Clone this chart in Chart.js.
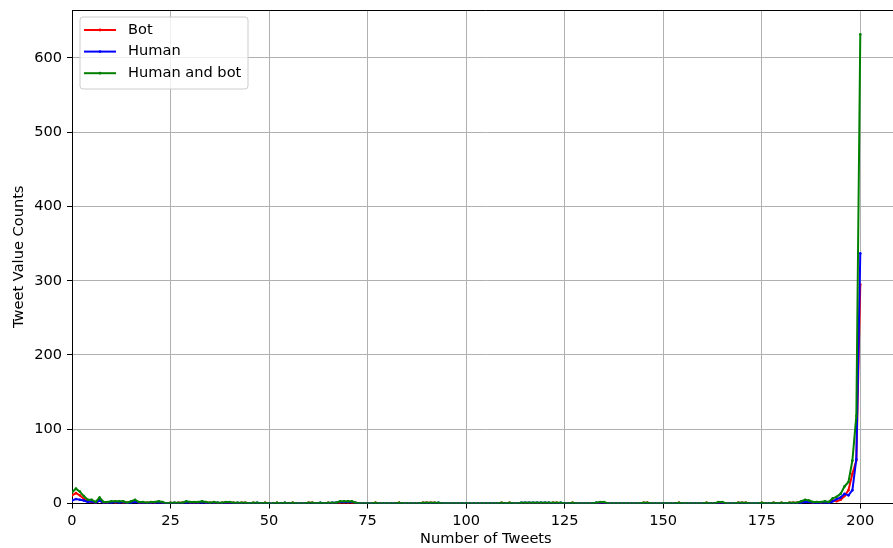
<!DOCTYPE html>
<html>
<head>
<meta charset="utf-8">
<script src="https://cdn.jsdelivr.net/npm/chart.js@4/dist/chart.umd.min.js"></script>
<style>
  html, body { margin: 0; padding: 0; background: #fff; overflow: hidden; width: 893px; height: 548px; }
  #wrap { width: 901px; height: 548px; }
</style>
</head>
<body>
<div id="wrap"><canvas id="c" width="901" height="548"></canvas></div>
<script>
// Number of tweets per account (x positions)
const tweetCounts = [
  0,1,2,3,4,5,6,7,8,9,10,11,12,13,14,15,16,17,18,19,
  20,21,22,23,24,25,26,27,28,29,30,31,32,33,34,35,36,37,38,39,
  40,41,42,43,44,45,46,47,48,49,50,51,52,53,54,55,56,57,58,59,
  60,61,62,63,64,65,66,67,68,69,70,71,72,73,74,75,76,77,78,79,
  80,81,82,83,84,85,86,87,88,89,90,91,92,93,94,95,96,97,98,99,
  100,101,102,103,104,105,106,107,108,109,110,111,112,113,114,115,116,117,118,119,
  120,121,122,123,124,125,126,127,128,129,130,131,132,133,134,135,136,137,138,139,
  140,141,142,143,144,145,146,147,148,149,150,151,152,153,154,155,156,157,158,159,
  160,161,162,163,164,165,166,167,168,169,170,171,172,173,174,175,176,177,178,179,
  180,181,182,183,184,185,186,187,188,189,190,191,192,193,194,195,196,197,198,199,
  200
];

const botCounts = [
  11,14,11,6,3,2,1,4,1,1,
  2,1,2,1,1,2,3,1,1,1,
  1,1,2,1,0,1,0,1,1,2,
  1,1,1,2,1,1,1,0,1,1,
  1,1,0,1,1,0,1,0,0,1,
  0,0,1,0,0,0,1,0,0,0,
  1,1,0,0,0,1,0,0,1,1,
  1,1,0,0,0,0,0,1,0,0,
  0,0,0,1,0,0,0,0,0,1,
  1,1,1,0,0,0,0,0,0,0,
  0,0,0,0,0,0,0,0,0,1,
  0,1,0,0,0,0,0,0,0,0,
  0,0,1,1,0,0,0,1,0,0,
  0,0,0,0,1,1,0,0,0,0,
  0,0,0,0,0,1,1,0,0,0,
  0,0,0,0,1,0,0,0,0,0,
  0,1,0,0,1,1,0,0,0,1,
  1,1,0,0,0,1,0,0,1,0,
  1,0,1,1,1,2,3,2,1,2,
  1,2,2,4,3,5,10,18,40,58,
  295
];

const humanCounts = [
  4,6,5,4,2,3,1,4,1,1,
  1,2,1,2,0,1,2,1,1,0,
  1,1,1,1,0,0,1,0,0,1,
  1,1,1,1,1,0,1,1,0,1,
  1,0,1,0,0,0,0,1,0,0,
  0,0,0,0,1,0,0,0,0,0,
  0,0,0,1,0,0,1,1,2,2,
  2,2,1,0,0,0,0,0,0,0,
  0,0,0,0,0,0,0,0,0,0,
  0,0,0,1,0,0,0,0,0,0,
  0,0,0,0,0,0,0,0,0,0,
  0,0,0,0,1,1,1,1,1,1,
  1,1,0,0,1,0,0,0,0,0,
  0,0,0,1,1,1,0,0,0,0,
  0,0,0,0,0,0,0,0,0,0,
  0,0,0,0,0,0,0,0,0,0,
  0,0,0,0,1,1,0,0,0,0,
  0,0,0,0,0,0,0,0,0,0,
  0,0,0,0,0,1,2,2,1,0,
  1,1,0,3,6,8,13,11,18,60,
  337
];

const bothCounts = [
  15,20,16,10,5,5,2,8,2,2,
  3,3,3,3,1,3,5,2,2,1,
  2,2,3,2,0,1,1,1,1,3,
  2,2,2,3,2,1,2,1,1,2,
  2,1,1,1,1,0,1,1,0,1,
  0,0,1,0,1,0,1,0,0,0,
  1,1,0,1,0,1,1,1,3,3,
  3,3,1,0,0,0,0,1,0,0,
  0,0,0,1,0,0,0,0,0,1,
  1,1,1,1,0,0,0,0,0,0,
  0,0,0,0,0,0,0,0,0,1,
  0,1,0,0,1,1,1,1,1,1,
  1,1,1,1,1,0,0,1,0,0,
  0,0,0,1,2,2,0,0,0,0,
  0,0,0,0,0,1,1,0,0,0,
  0,0,0,0,1,0,0,0,0,0,
  0,1,0,0,2,2,0,0,0,1,
  1,1,0,0,0,1,0,0,1,0,
  1,0,1,1,1,3,5,4,2,2,
  2,3,2,7,9,13,23,29,58,118,
  632
];

const xTickValues = [0, 25, 50, 75, 100, 125, 150, 175, 200];
const yTickValues = [0, 100, 200, 300, 400, 500, 600];

const seriesNames = ['Bot', 'Human', 'Human and bot'];
const seriesColors = ['#ff0000', '#0000ff', '#008000'];

const FONT = 'DejaVu Sans';
const FS = 14.6;

function points(values) {
  return values.map((v, i) => ({ x: tweetCounts[i], y: v }));
}

// Top and right frame lines around the plotting area
const framePlugin = {
  id: 'frame',
  afterDatasetsDraw(chart) {
    const { ctx, chartArea: a } = chart;
    ctx.save();
    ctx.strokeStyle = '#000';
    ctx.lineWidth = 1;
    ctx.beginPath();
    ctx.moveTo(a.left, a.top + 0.5);
    ctx.lineTo(a.right, a.top + 0.5);
    ctx.moveTo(a.right - 0.5, a.top);
    ctx.lineTo(a.right - 0.5, a.bottom);
    ctx.stroke();
    ctx.restore();
  }
};

// Boxed legend in the upper-left corner of the plot
const boxLegend = {
  id: 'boxLegend',
  afterDraw(chart) {
    const { ctx, chartArea: a } = chart;
    const x0 = a.left + 8, y0 = a.top + 7, w = 168, h = 72, r = 3;
    ctx.save();
    ctx.beginPath();
    ctx.moveTo(x0 + r, y0);
    ctx.lineTo(x0 + w - r, y0);
    ctx.arcTo(x0 + w, y0, x0 + w, y0 + r, r);
    ctx.lineTo(x0 + w, y0 + h - r);
    ctx.arcTo(x0 + w, y0 + h, x0 + w - r, y0 + h, r);
    ctx.lineTo(x0 + r, y0 + h);
    ctx.arcTo(x0, y0 + h, x0, y0 + h - r, r);
    ctx.lineTo(x0, y0 + r);
    ctx.arcTo(x0, y0, x0 + r, y0, r);
    ctx.closePath();
    ctx.fillStyle = 'rgba(255,255,255,0.8)';
    ctx.fill();
    ctx.strokeStyle = '#cccccc';
    ctx.lineWidth = 1;
    ctx.stroke();

    ctx.font = FS + 'px "' + FONT + '"';
    ctx.textBaseline = 'middle';
    ctx.textAlign = 'left';
    seriesNames.forEach((name, i) => {
      const cy = y0 + 13 + i * 21.6;
      const hx0 = x0 + 4, hx1 = x0 + 36;
      ctx.strokeStyle = seriesColors[i];
      ctx.lineWidth = 2;
      ctx.beginPath();
      ctx.moveTo(hx0, cy);
      ctx.lineTo(hx1, cy);
      ctx.stroke();
      ctx.fillStyle = seriesColors[i];
      ctx.beginPath();
      ctx.arc((hx0 + hx1) / 2, cy, 1.4, 0, Math.PI * 2);
      ctx.fill();
      ctx.fillStyle = '#000';
      ctx.fillText(name, x0 + 48, cy);
    });
    ctx.restore();
  }
};

const datasets = [botCounts, humanCounts, bothCounts].map((vals, i) => ({
  label: seriesNames[i],
  data: points(vals),
  borderColor: seriesColors[i],
  backgroundColor: seriesColors[i],
  borderWidth: 2,
  pointRadius: 1.3,
  pointHoverRadius: 1.3,
  pointBorderWidth: 0,
  tension: 0,
  fill: false,
  order: 3 - i
}));

new Chart(document.getElementById('c'), {
  type: 'line',
  data: { datasets },
  options: {
    responsive: false,
    animation: false,
    devicePixelRatio: 1,
    layout: { padding: { top: 10, right: 0, left: 0, bottom: 0 } },
    plugins: {
      legend: { display: false },
      tooltip: { enabled: false }
    },
    scales: {
      x: {
        type: 'linear',
        min: 0,
        max: 210,
        afterBuildTicks: s => { s.ticks = xTickValues.map(v => ({ value: v })); },
        afterFit: s => { s.height = 44.5; s.paddingLeft = 0; s.paddingRight = 0; },
        ticks: {
          color: '#000',
          font: { family: FONT, size: FS },
          padding: 4,
          maxRotation: 0,
          autoSkip: false
        },
        grid: {
          color: '#b0b0b0',
          lineWidth: 1,
          tickColor: '#000',
          tickLength: 5,
          tickWidth: 1
        },
        border: { color: '#000', width: 1 },
        title: {
          display: true,
          text: 'Number of Tweets',
          color: '#000',
          font: { family: FONT, size: FS },
          padding: { top: 0, bottom: 0 }
        }
      },
      y: {
        type: 'linear',
        min: 0,
        max: 664.6,
        afterBuildTicks: s => { s.ticks = yTickValues.map(v => ({ value: v })); },
        afterFit: s => { s.width = 72; s.paddingTop = 0; s.paddingBottom = 0; },
        ticks: {
          color: '#000',
          font: { family: FONT, size: FS },
          padding: 5,
          autoSkip: false
        },
        grid: {
          color: '#b0b0b0',
          lineWidth: 1,
          tickColor: '#000',
          tickLength: 5,
          tickWidth: 1
        },
        border: { color: '#000', width: 1 },
        title: {
          display: true,
          text: 'Tweet Value Counts',
          color: '#000',
          font: { family: FONT, size: FS },
          padding: { top: 10.5, bottom: 0 }
        }
      }
    }
  },
  plugins: [framePlugin, boxLegend]
});
</script>
</body>
</html>
